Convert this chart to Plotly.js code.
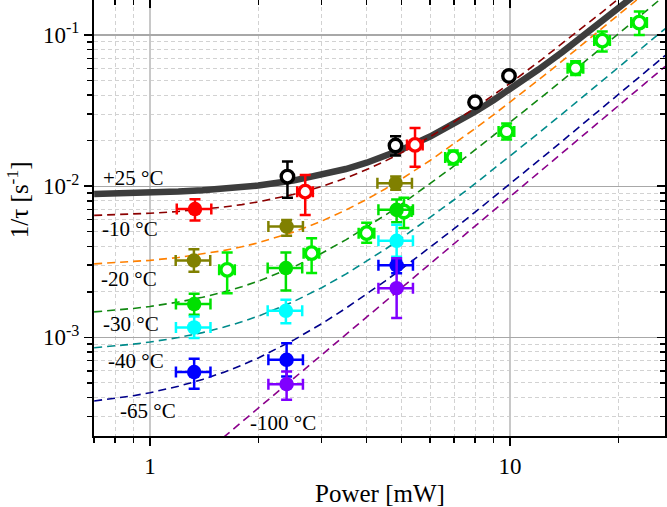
<!DOCTYPE html>
<html>
<head>
<meta charset="utf-8">
<script src="https://cdn.plot.ly/plotly-3.0.1.min.js"></script>
<style>
html,body{margin:0;padding:0;background:#fff;}
#chart{width:667px;height:507px;}
</style>
</head>
<body>
<div id="chart"></div>
<script>
// ---------------- data ----------------
// axis ticks
const X_MAJOR = [1, 10];
const X_MAJOR_TEXT = ['1', '10'];
const X_MINOR = [0.7, 0.8, 0.9, 2, 3, 4, 5, 6, 7, 8, 9, 20];
const Y_MAJOR = [0.001, 0.01, 0.1];
const Y_MAJOR_TEXT = ['10<sup>-3</sup>', '10<sup>-2</sup>', '10<sup>-1</sup>'];
const Y_MINOR = [3e-4, 4e-4, 5e-4, 6e-4, 7e-4, 8e-4, 9e-4,
                 2e-3, 3e-3, 4e-3, 5e-3, 6e-3, 7e-3, 8e-3, 9e-3,
                 2e-2, 3e-2, 4e-2, 5e-2, 6e-2, 7e-2, 8e-2, 9e-2];

// fitted curves: power grid and the 1/tau value
const P_FIT = [0.7, 0.8, 0.9, 1, 1.2, 1.4, 1.6, 1.8, 2, 2.5, 3, 3.5, 4, 4.5, 5, 6, 7, 8, 9, 10, 12, 14, 16, 18, 20, 22, 24, 27];
const T_FIT_P25 = [0.008872, 0.008924, 0.008984, 0.00905, 0.009204, 0.009386, 0.009596, 0.009834, 0.0101, 0.010888,
                   0.01185, 0.012988, 0.0143, 0.015788, 0.01745, 0.0213, 0.02585, 0.0311, 0.03705, 0.0437,
                   0.0591, 0.0773, 0.0983, 0.1221, 0.1487, 0.1781, 0.2103, 0.2639];
const T_FIT_M10 = [0.006404, 0.006467, 0.006538, 0.006617, 0.0068, 0.007017, 0.007268, 0.007551, 0.007868, 0.008806,
                   0.009953, 0.011308, 0.012872, 0.014644, 0.016625, 0.021212, 0.026633, 0.032888, 0.039977, 0.0479,
                   0.06625, 0.08793, 0.11295, 0.14131, 0.173, 0.208, 0.2464, 0.3102];
const T_FIT_M20 = [0.003062, 0.003111, 0.003167, 0.00323, 0.003375, 0.003547, 0.003745, 0.003969, 0.00422, 0.004963,
                   0.00587, 0.006943, 0.00818, 0.009583, 0.01115, 0.01478, 0.01907, 0.02402, 0.02963, 0.0359,
                   0.05042, 0.06758, 0.08738, 0.10982, 0.1349, 0.16262, 0.19298, 0.2435];
const T_FIT_M30 = [0.0014725, 0.00151, 0.0015525, 0.0016, 0.00171, 0.00184, 0.00199, 0.00216, 0.00235, 0.0029125,
                   0.0036, 0.0044125, 0.00535, 0.0064125, 0.0076, 0.01035, 0.0136, 0.01735, 0.0216, 0.02635,
                   0.03735, 0.05035, 0.06535, 0.08235, 0.10135, 0.12235, 0.14535, 0.1836];
const T_FIT_M40 = [0.0008535, 0.000876, 0.0009015, 0.00093, 0.000996, 0.001074, 0.001164, 0.001266, 0.00138, 0.0017175,
                   0.00213, 0.0026175, 0.00318, 0.0038175, 0.00453, 0.00618, 0.00813, 0.01038, 0.01293, 0.01578,
                   0.02238, 0.03018, 0.03918, 0.04938, 0.06078, 0.07338, 0.08718, 0.11013];
const T_FIT_M65 = [0.000379, 0.000394, 0.000411, 0.00043, 0.000474, 0.000526, 0.000586, 0.000654, 0.00073, 0.000955,
                   0.00123, 0.001555, 0.00193, 0.002355, 0.00283, 0.00393, 0.00523, 0.00673, 0.00843, 0.01033,
                   0.01473, 0.01993, 0.02593, 0.03273, 0.04033, 0.04873, 0.05793, 0.07323];
const P_FIT_M100 = [1.6, 1.8, 2, 2.5, 3, 3.5, 4, 4.5, 5, 6, 7, 8, 9, 10, 12, 14, 16, 18, 20, 22, 24, 27];
const T_FIT_M100 = [0.0002176, 0.0002754, 0.00034, 0.000531, 0.000765, 0.001041, 0.00136, 0.001721, 0.002125, 0.00306,
                    0.004165, 0.00544, 0.006885, 0.0085, 0.01224, 0.01666, 0.02176, 0.02754, 0.034, 0.04114, 0.04896, 0.061965];

// measured points: power [mW], 1/tau [1/s], error up / down
const P_P25_OPEN = [2.41, 4.81, 8.0, 9.94];
const T_P25_OPEN = [0.01157, 0.01856, 0.0359, 0.0536];
const EU_P25_OPEN = [0.0030, 0.0028, 0.0012, 0.0015];
const ED_P25_OPEN = [0.0032, 0.0026, 0.0012, 0.0015];

const P_M10_FILL = [1.334];
const T_M10_FILL = [0.00705];
const EU_M10_FILL = [0.00115];
const ED_M10_FILL = [0.00113];

const P_M10_OPEN = [2.70, 5.45];
const T_M10_OPEN = [0.0092, 0.01875];
const EU_M10_OPEN = [0.00267, 0.0055];
const ED_M10_OPEN = [0.00275, 0.0053];

const P_M20_FILL = [1.325, 2.397, 4.814];
const T_M20_FILL = [0.00322, 0.0054, 0.01047];
const EU_M20_FILL = [0.00061, 0.00058, 0.0011];
const ED_M20_FILL = [0.00051, 0.00071, 0.00102];

const P_M30_FILL = [1.327, 2.386, 4.845];
const T_M30_FILL = [0.001658, 0.00287, 0.00697];
const EU_M30_FILL = [0.00028, 0.00077, 0.0012];
const ED_M30_FILL = [0.00025, 0.00083, 0.0012];

const P_M30_OPEN = [1.639, 2.813, 4.0, 5.076, 6.958, 9.79, 15.22, 18.05, 22.87];
const T_M30_OPEN = [0.002795, 0.003605, 0.004889, 0.00679, 0.0155, 0.02297, 0.0603, 0.0918, 0.1208];
const EU_M30_OPEN = [0.00084, 0.00092, 0.00083, 0.0016, 0.0017, 0.003, 0.0068, 0.0135, 0.0223];
const ED_M30_OPEN = [0.00084, 0.00094, 0.00067, 0.0015, 0.0016, 0.0026, 0.006, 0.0141, 0.0207];

const P_M40_FILL = [1.327, 2.386, 4.845];
const T_M40_FILL = [0.001161, 0.001497, 0.004346];
const EU_M40_FILL = [0.000212, 0.000273, 0.0012];
const ED_M40_FILL = [0.000173, 0.000256, 0.00093];

const P_M65_FILL = [1.327, 2.397, 4.845];
const T_M65_FILL = [0.000589, 0.00071, 0.002994];
const EU_M65_FILL = [0.000132, 0.000205, 0.00026];
const ED_M65_FILL = [0.000133, 0.00016, 0.00034];

const P_M100_FILL = [2.397, 4.845];
const T_M100_FILL = [0.00049, 0.002115];
const EU_M100_FILL = [0.000104, 0.00122];
const ED_M100_FILL = [0.000104, 0.000775];

// x error (percent of power)
const XERR_FILL_PCT = 11;
const XERR_OPEN_PCT = 5;

// labels
const LABELS = ['+25 °C', '-10 °C', '-20 °C', '-30 °C', '-40 °C', '-65 °C', '-100 °C'];

// ---------------- styling / layout ----------------
const FONT = '"Liberation Serif", "Times New Roman", Times, serif';
const X_RANGE = [Math.log10(0.6993), Math.log10(26.96)];
const Y_RANGE = [-3.653, -0.7684];

function fitLine(x, y, color, width, dash) {
  return {type: 'scatter', mode: 'lines', x: x, y: y, hoverinfo: 'skip', showlegend: false,
          line: {color: color, width: width, dash: dash, shape: 'linear'}};
}
function pts(x, y, eu, ed, color, open, xpct) {
  const t = {type: 'scatter', mode: 'markers', x: x, y: y, showlegend: false, hoverinfo: 'skip',
    marker: open ? {symbol: 'circle', size: 12.5, color: '#ffffff', line: {width: 3.4, color: color}}
                 : {symbol: 'circle', size: 14.5, color: color, line: {width: 0}},
    error_y: {type: 'data', symmetric: false, array: eu, arrayminus: ed, color: color, thickness: 2.5, width: 5.5}
  };
  if (xpct) t.error_x = {type: 'percent', value: xpct, color: color, thickness: 2.5, width: 5.5};
  return t;
}

const DASH = '8px,5px';
const traces = [
  fitLine(P_FIT, T_FIT_P25, '#3d3d3d', 6.5, 'solid'),
  fitLine(P_FIT, T_FIT_M10, '#8b0000', 1.6, DASH),
  fitLine(P_FIT, T_FIT_M20, '#ff8000', 1.6, DASH),
  fitLine(P_FIT, T_FIT_M30, '#118811', 1.6, DASH),
  fitLine(P_FIT, T_FIT_M40, '#008b8b', 1.6, DASH),
  fitLine(P_FIT, T_FIT_M65, '#00008b', 1.6, DASH),
  fitLine(P_FIT_M100, T_FIT_M100, '#8b008b', 1.6, DASH),
  pts(P_P25_OPEN, T_P25_OPEN, EU_P25_OPEN, ED_P25_OPEN, '#000000', true, 0),
  pts(P_M10_FILL, T_M10_FILL, EU_M10_FILL, ED_M10_FILL, '#ff0000', false, XERR_FILL_PCT),
  pts(P_M10_OPEN, T_M10_OPEN, EU_M10_OPEN, ED_M10_OPEN, '#ff0000', true, XERR_OPEN_PCT),
  pts(P_M20_FILL, T_M20_FILL, EU_M20_FILL, ED_M20_FILL, '#808000', false, XERR_FILL_PCT),
  pts(P_M30_OPEN, T_M30_OPEN, EU_M30_OPEN, ED_M30_OPEN, '#00ee00', true, XERR_OPEN_PCT),
  pts(P_M30_FILL, T_M30_FILL, EU_M30_FILL, ED_M30_FILL, '#00e000', false, XERR_FILL_PCT),
  pts(P_M40_FILL, T_M40_FILL, EU_M40_FILL, ED_M40_FILL, '#00ffff', false, XERR_FILL_PCT),
  pts(P_M65_FILL, T_M65_FILL, EU_M65_FILL, ED_M65_FILL, '#0000ff', false, XERR_FILL_PCT),
  pts(P_M100_FILL, T_M100_FILL, EU_M100_FILL, ED_M100_FILL, '#8000ff', false, XERR_FILL_PCT),
  // empty trace carrying the mirrored (inside-tick) top/right axes
  {type: 'scatter', mode: 'markers', x: [], y: [], xaxis: 'x2', yaxis: 'y2', showlegend: false, hoverinfo: 'skip'}
];

// label positions (paper coords)
const LABEL_POS = [[0.012, 0.592], [0.010, 0.475], [0.008, 0.360], [0.013, 0.257],
                   [0.021, 0.172], [0.042, 0.057], [0.270, 0.030]];
const annotations = LABELS.map((t, i) => ({
  text: t, xref: 'paper', yref: 'paper', x: LABEL_POS[i][0], y: LABEL_POS[i][1],
  xanchor: 'left', yanchor: 'middle', showarrow: false,
  font: {family: FONT, size: 21, color: '#000'}
}));
annotations.push({text: 'Power [mW]', xref: 'paper', yref: 'paper', x: 0.5, y: -0.131,
  xanchor: 'center', yanchor: 'middle', showarrow: false, font: {family: FONT, size: 25, color: '#000'}});
annotations.push({text: '1/τ [s<sup>-1</sup>]', xref: 'paper', yref: 'paper', x: -0.133, y: 0.541,
  xanchor: 'center', yanchor: 'middle', textangle: -90, showarrow: false,
  font: {family: FONT, size: 25, color: '#000'}});

const layout = {
  width: 667, height: 507,
  margin: {l: 94, r: 2, t: 0, b: 71, pad: 0},
  paper_bgcolor: '#ffffff', plot_bgcolor: '#ffffff',
  showlegend: false,
  font: {family: FONT, color: '#000'},
  xaxis: {
    type: 'log', range: X_RANGE, tickmode: 'array', tickvals: X_MAJOR, ticktext: X_MAJOR_TEXT,
    ticks: 'outside', ticklen: 8, tickwidth: 1.5, tickcolor: '#000',
    showline: true, linecolor: '#000', linewidth: 2, mirror: true,
    showgrid: true, gridcolor: '#c8c8c8', gridwidth: 1.5, zeroline: false,
    tickfont: {family: FONT, size: 23, color: '#000'},
    minor: {tickmode: 'array', tickvals: X_MINOR, ticks: 'outside', ticklen: 5, tickwidth: 1.5, tickcolor: '#000',
            showgrid: true, gridcolor: '#d2d2d2', gridwidth: 1, griddash: '4px,3px'}
  },
  yaxis: {
    type: 'log', range: Y_RANGE, tickmode: 'array', tickvals: Y_MAJOR, ticktext: Y_MAJOR_TEXT,
    ticks: 'outside', ticklen: 8, tickwidth: 1.5, tickcolor: '#000',
    showline: true, linecolor: '#000', linewidth: 2, mirror: true,
    showgrid: true, gridcolor: '#a8a8a8', gridwidth: 1.2, zeroline: false,
    tickfont: {family: FONT, size: 23, color: '#000'},
    minor: {tickmode: 'array', tickvals: Y_MINOR, ticks: 'outside', ticklen: 5, tickwidth: 1.5, tickcolor: '#000',
            showgrid: true, gridcolor: '#d2d2d2', gridwidth: 1, griddash: '4px,3px'}
  },
  xaxis2: {
    type: 'log', range: X_RANGE, overlaying: 'x', side: 'top', anchor: 'y2',
    tickmode: 'array', tickvals: X_MAJOR, ticks: 'inside', ticklen: 8, tickwidth: 1.5, tickcolor: '#000',
    showticklabels: false, showgrid: false, showline: false, zeroline: false,
    minor: {tickmode: 'array', tickvals: X_MINOR, ticks: 'inside', ticklen: 5, tickwidth: 1.5, tickcolor: '#000', showgrid: false}
  },
  yaxis2: {
    type: 'log', range: Y_RANGE, overlaying: 'y', side: 'right', anchor: 'x2',
    tickmode: 'array', tickvals: Y_MAJOR, ticks: 'inside', ticklen: 8, tickwidth: 1.5, tickcolor: '#000',
    showticklabels: false, showgrid: false, showline: false, zeroline: false,
    minor: {tickmode: 'array', tickvals: Y_MINOR, ticks: 'inside', ticklen: 5, tickwidth: 1.5, tickcolor: '#000', showgrid: false}
  },
  annotations: annotations
};

Plotly.newPlot('chart', traces, layout, {displayModeBar: false, staticPlot: true});
</script>
</body>
</html>
